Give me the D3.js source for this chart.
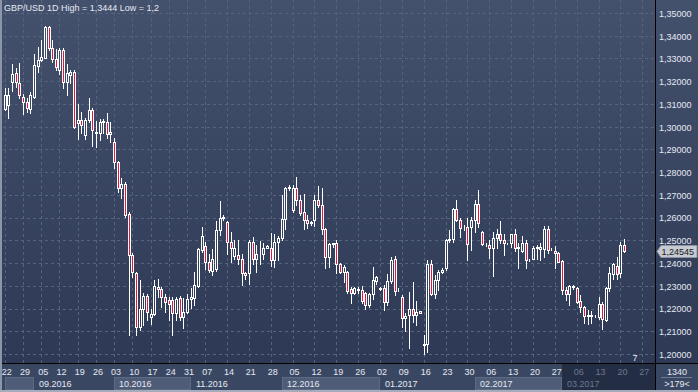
<!DOCTYPE html>
<html>
<head>
<meta charset="utf-8">
<script src="https://cdn.jsdelivr.net/npm/d3@7"></script>
<style>
  body { margin: 0; background: #3a4762; overflow: hidden; }
  text { font-family: "Liberation Sans", Arial, sans-serif; }
</style>
</head>
<body>
<script>
// Data (GBP/USD daily candles, 22.08.2016 - 21.03.2017)
var opens = [1.3076,1.3095,1.3198,1.3235,1.3191,1.3129,1.3107,1.3078,1.3131,1.3268,1.3293,1.3303,1.3440,1.3345,1.3298,1.3249,1.3337,1.3198,1.3227,1.3239,
  1.3015,1.3029,1.2963,1.3029,1.3073,1.2970,1.2973,1.3019,1.3022,1.2967,1.2934,1.2846,1.2729,1.2746,1.2616,1.2435,1.2357,1.2120,1.2200,1.2255,
  1.2161,1.2178,1.2296,1.2284,1.2252,1.2237,1.2237,1.2181,1.2245,1.2161,1.2186,1.2240,1.2245,1.2300,1.2457,1.2475,1.2403,1.2365,1.2374,1.2545,
  1.2599,1.2579,1.2491,1.2432,1.2435,1.2420,1.2355,1.2355,1.2491,1.2416,1.2438,1.2442,1.2468,1.2468,1.2413,1.2491,1.2511,1.2592,1.2729,1.2633,
  1.2729,1.2677,1.2626,1.2589,1.2578,1.2589,1.2677,1.2655,1.2548,1.2425,1.2484,1.2489,1.2396,1.2362,1.2362,1.2284,1.2269,1.2281,1.2281,1.2269,
  1.2215,1.2264,1.2322,1.2286,1.2289,1.2230,1.2321,1.2418,1.2284,1.2252,1.2159,1.2171,1.2200,1.2171,1.2189,1.2040,1.2042,1.2394,1.2266,1.2325,
  1.2359,1.2377,1.2501,1.2506,1.2637,1.2589,1.2553,1.2560,1.2560,1.2589,1.2658,1.2538,1.2482,1.2479,1.2465,1.2509,1.2526,1.2501,1.2487,1.2487,
  1.2526,1.2465,1.2453,1.2487,1.2413,1.2420,1.2472,1.2462,1.2462,1.2550,1.2462,1.2453,1.2443,1.2409,1.2281,1.2264,1.2296,1.2289,1.2234,1.2205,
  1.2167,1.2168,1.2167,1.2161,1.2220,1.2149,1.2289,1.2354,1.2387,1.2357,1.2479]
var highs = [1.3171,1.3171,1.3274,1.3257,1.3279,1.3142,1.3125,1.3151,1.3318,1.3352,1.3381,1.3444,1.3444,1.3381,1.3341,1.3345,1.3345,1.3274,1.3249,1.3249,
  1.3098,1.3063,1.3040,1.3125,1.3081,1.3025,1.3032,1.3032,1.3059,1.3022,1.2948,1.2850,1.2773,1.2758,1.2626,1.2443,1.2362,1.2325,1.2269,1.2264,
  1.2200,1.2325,1.2328,1.2296,1.2264,1.2249,1.2252,1.2252,1.2255,1.2245,1.2264,1.2290,1.2359,1.2465,1.2560,1.2494,1.2438,1.2462,1.2585,1.2673,
  1.2611,1.2585,1.2538,1.2501,1.2501,1.2438,1.2359,1.2501,1.2516,1.2479,1.2497,1.2487,1.2479,1.2531,1.2526,1.2520,1.2699,1.2733,1.2743,1.2743,
  1.2780,1.2699,1.2704,1.2611,1.2586,1.2699,1.2739,1.2729,1.2553,1.2489,1.2489,1.2501,1.2401,1.2391,1.2365,1.2296,1.2293,1.2296,1.2299,1.2274,
  1.2269,1.2384,1.2343,1.2293,1.2303,1.2350,1.2428,1.2432,1.2289,1.2259,1.2179,1.2274,1.2315,1.2233,1.2190,1.2083,1.2413,1.2413,1.2347,1.2369,
  1.2377,1.2508,1.2545,1.2643,1.2677,1.2600,1.2567,1.2597,1.2604,1.2677,1.2721,1.2541,1.2487,1.2501,1.2538,1.2550,1.2585,1.2526,1.2490,1.2530,
  1.2550,1.2487,1.2520,1.2501,1.2416,1.2477,1.2479,1.2487,1.2564,1.2564,1.2465,1.2477,1.2450,1.2413,1.2296,1.2303,1.2303,1.2296,1.2259,1.2211,
  1.2193,1.2190,1.2171,1.2252,1.2230,1.2293,1.2381,1.2401,1.2425,1.2494,1.2504]
var lows = [1.3073,1.3037,1.3157,1.3176,1.3125,1.3056,1.3066,1.3059,1.3127,1.3242,1.3289,1.3300,1.3337,1.3286,1.3249,1.3230,1.3171,1.3139,1.3191,1.2993,
  1.2946,1.2970,1.2946,1.3022,1.2916,1.2912,1.2941,1.2970,1.2948,1.2934,1.2817,1.2714,1.2685,1.2604,1.2083,1.2340,1.2083,1.2105,1.2127,1.2149,
  1.2134,1.2171,1.2249,1.2208,1.2186,1.2149,1.2083,1.2149,1.2149,1.2113,1.2181,1.2201,1.2215,1.2296,1.2447,1.2376,1.2359,1.2347,1.2365,1.2523,
  1.2589,1.2442,1.2406,1.2420,1.2398,1.2303,1.2332,1.2310,1.2398,1.2359,1.2398,1.2420,1.2465,1.2388,1.2384,1.2413,1.2501,1.2552,1.2721,1.2626,
  1.2655,1.2611,1.2548,1.2553,1.2567,1.2563,1.2648,1.2528,1.2377,1.2381,1.2472,1.2355,1.2355,1.2318,1.2269,1.2225,1.2266,1.2269,1.2225,1.2196,
  1.2208,1.2244,1.2310,1.2281,1.2193,1.2215,1.2311,1.2259,1.2277,1.2120,1.2101,1.2028,1.2142,1.2127,1.2179,1.2000,1.2010,1.2259,1.2248,1.2281,
  1.2355,1.2369,1.2491,1.2494,1.2585,1.2516,1.2545,1.2413,1.2457,1.2538,1.2560,1.2479,1.2477,1.2423,1.2344,1.2465,1.2487,1.2435,1.2484,1.2472,
  1.2453,1.2380,1.2450,1.2380,1.2409,1.2418,1.2420,1.2413,1.2428,1.2443,1.2459,1.2380,1.2403,1.2262,1.2237,1.2215,1.2284,1.2223,1.2186,1.2138,
  1.2132,1.2138,1.2161,1.2152,1.2108,1.2146,1.2278,1.2332,1.2332,1.2340,1.2450]
var closes = [1.3139,1.3139,1.3230,1.3198,1.3139,1.3107,1.3081,1.3139,1.3271,1.3293,1.3305,1.3440,1.3345,1.3296,1.3264,1.3337,1.3198,1.3235,1.3239,1.2997,
  1.3029,1.3007,1.3029,1.3073,1.2985,1.2978,1.3022,1.3026,1.2967,1.2975,1.2846,1.2729,1.2746,1.2611,1.2435,1.2362,1.2120,1.2200,1.2255,1.2186,
  1.2178,1.2299,1.2284,1.2252,1.2230,1.2222,1.2181,1.2240,1.2161,1.2186,1.2240,1.2250,1.2303,1.2460,1.2519,1.2403,1.2368,1.2420,1.2545,1.2597,
  1.2601,1.2491,1.2465,1.2465,1.2420,1.2355,1.2347,1.2491,1.2416,1.2438,1.2442,1.2465,1.2475,1.2413,1.2491,1.2511,1.2592,1.2729,1.2733,1.2729,
  1.2677,1.2621,1.2589,1.2575,1.2580,1.2677,1.2655,1.2548,1.2425,1.2484,1.2487,1.2396,1.2362,1.2384,1.2278,1.2269,1.2289,1.2284,1.2234,1.2215,
  1.2266,1.2325,1.2340,1.2289,1.2230,1.2321,1.2413,1.2277,1.2286,1.2159,1.2168,1.2200,1.2171,1.2186,1.2179,1.2042,1.2394,1.2266,1.2325,1.2359,
  1.2369,1.2501,1.2506,1.2637,1.2589,1.2553,1.2556,1.2482,1.2589,1.2658,1.2575,1.2482,1.2484,1.2465,1.2509,1.2526,1.2501,1.2487,1.2488,1.2526,
  1.2468,1.2472,1.2487,1.2413,1.2414,1.2465,1.2465,1.2472,1.2550,1.2457,1.2463,1.2443,1.2406,1.2281,1.2266,1.2299,1.2297,1.2230,1.2205,1.2167,
  1.2171,1.2171,1.2168,1.2220,1.2152,1.2289,1.2357,1.2398,1.2354,1.2479,1.2454]

var daySlots = [0,5,10,15,20,25,30,35,40,45,50,55,61,67,73,79,85,91,97,103,109,115,121,127,133,139,145,151,157,163,169,175]
var dayLabels = ['22','29','05','12','19','26','03','10','17','24','31','07','14','21','28','05','12','19','26','02','09','16','23','30','06','13','20','27','06','13','20','27']
var monthStarts = [0,8,30,51,76,103,129,153]
var monthLabels = ['','09.2016','10.2016','11.2016','12.2016','01.2017','02.2017','03.2017']
var priceTicks = [1.35,1.34,1.33,1.32,1.31,1.30,1.29,1.28,1.27,1.26,1.25,1.24,1.23,1.22,1.21,1.20]
var lastPrice = 1.24545
var slotCount = 179   // bars visible
var barsTotal = 1340
var currentSlot = 153 // first bar of the current month (greyed)

// Variables
var w = 698, h = 392
var plotRight = 655, plotBottom = 363
var fmt = d3.formatLocale({ decimal: ',', thousands: '.', grouping: [3], currency: ['', ''] }).format('.5f')
var light = '#e4e9f2', grey = '#6d7890'

// Scales
var xScale = d3.scaleBand().domain(d3.range(slotCount)).range([3, plotRight])
var yScale = d3.scaleLinear().domain([1.20, 1.35]).range([354, 13])
var bw = xScale.bandwidth()
function xc (i) { return xScale(i) + bw / 2 }

var svg = d3.select('body').append('svg')
    .attr('width', w)
    .attr('height', h)

// Background gradient
var grad = svg.append('defs').append('linearGradient')
    .attr('id', 'bg')
    .attr('gradientUnits', 'userSpaceOnUse')
    .attr('x1', 0).attr('y1', 0).attr('x2', 0).attr('y2', plotBottom)
grad.append('stop').attr('offset', '0%').attr('stop-color', '#44516d')
grad.append('stop').attr('offset', '100%').attr('stop-color', '#2d3955')

svg.append('rect').attr('width', w).attr('height', h).attr('fill', '#3a4762')
svg.append('rect').attr('width', w).attr('height', plotBottom).attr('fill', 'url(#bg)')

// Month row boxes
var months = monthStarts.map(function (s, i) {
  return { start: s, end: i < monthStarts.length - 1 ? monthStarts[i + 1] : slotCount, label: monthLabels[i], i: i }
})
svg.selectAll('.mbox')
    .data(months.filter(function (m) { return m.i % 2 === 0 && m.start < currentSlot }))
    .enter()
  .append('rect')
    .attr('x', function (d) { return Math.round(xc(d.start)) + 0.5 })
    .attr('y', 377.5)
    .attr('width', function (d) { return Math.round(xc(d.end)) - Math.round(xc(d.start)) - 1 })
    .attr('height', 12)
    .attr('fill', '#4f5c77')
    .attr('stroke', '#5d6a84')

// Current month shading
svg.append('rect')
    .attr('x', Math.round(xc(currentSlot)))
    .attr('y', plotBottom + 1)
    .attr('width', plotRight - Math.round(xc(currentSlot)))
    .attr('height', 390 - plotBottom - 1)
    .attr('fill', '#232d44')

// Grid
svg.append('g').selectAll('line')
    .data(priceTicks)
    .enter()
  .append('line')
    .attr('x1', 3).attr('x2', plotRight)
    .attr('y1', function (d) { return Math.round(yScale(d)) + 0.5 })
    .attr('y2', function (d) { return Math.round(yScale(d)) + 0.5 })
    .attr('stroke', '#56637d')
    .attr('stroke-dasharray', '3,3')
svg.append('g').selectAll('line')
    .data(daySlots)
    .enter()
  .append('line')
    .attr('y1', 0).attr('y2', plotBottom)
    .attr('x1', function (d) { return Math.round(xc(d)) + 0.5 })
    .attr('x2', function (d) { return Math.round(xc(d)) + 0.5 })
    .attr('stroke', '#56637d')
    .attr('stroke-dasharray', '3,3')

// Candles
var candles = svg.append('g').selectAll('g')
    .data(d3.range(opens.length))
    .enter()
  .append('g')
candles.append('line') // wick
    .attr('x1', function (i) { return Math.round(xc(i)) + 0.5 })
    .attr('x2', function (i) { return Math.round(xc(i)) + 0.5 })
    .attr('y1', function (i) { return Math.round(yScale(highs[i])) })
    .attr('y2', function (i) { return Math.round(yScale(lows[i])) + 1 })
    .attr('stroke', '#ffffff')
candles.append('rect') // body
    .attr('x', function (i) { return Math.round(xc(i)) - 0.5 })
    .attr('y', function (i) { return Math.round(yScale(Math.max(opens[i], closes[i]))) + 0.5 })
    .attr('width', 2)
    .attr('height', function (i) {
      return Math.max(0, Math.round(yScale(Math.min(opens[i], closes[i]))) - Math.round(yScale(Math.max(opens[i], closes[i]))))
    })
    .attr('fill', function (i) { return closes[i] < opens[i] ? '#e3163c' : 'url(#bg)' })
    .attr('stroke', '#ffffff')

// Frame lines
svg.append('line').attr('x1', plotRight + 0.5).attr('x2', plotRight + 0.5).attr('y1', 0).attr('y2', 390).attr('stroke', '#000')
svg.append('line').attr('x1', 0).attr('x2', w).attr('y1', plotBottom + 0.5).attr('y2', plotBottom + 0.5).attr('stroke', '#000')
svg.append('rect').attr('x', 0).attr('y', 0).attr('width', 2).attr('height', h).attr('fill', '#8d96a8')
svg.append('rect').attr('x', 0).attr('y', 390).attr('width', w).attr('height', 2).attr('fill', '#a4acbb')

// Y-axis (right)
var yAxis = d3.axisRight(yScale).tickValues(priceTicks).tickSize(0).tickPadding(3).tickFormat(fmt)
var ya = svg.append('g')
    .attr('transform', 'translate(' + (plotRight + 1) + ',0.5)')
    .call(yAxis)
ya.select('.domain').remove()
ya.selectAll('text').attr('fill', light).style('font-size', '9px')

// Last price tag
var ty = Math.round(yScale(lastPrice)) + 0.5
svg.append('path')
    .attr('d', 'M657,' + ty + ' L661,' + (ty - 6) + ' L697,' + (ty - 6) + ' L697,' + (ty + 6) + ' L661,' + (ty + 6) + ' Z')
    .attr('fill', '#c5c9d1')
    .attr('stroke', '#8c93a2')
svg.append('text')
    .attr('x', 661.5).attr('y', ty + 3.5)
    .style('font-size', '9px')
    .attr('fill', '#1a1a1a')
    .text(fmt(lastPrice))

// X-axis (days)
var xAxis = d3.axisBottom(xScale).tickValues(daySlots).tickSize(0).tickPadding(5.6)
    .tickFormat(function (d, i) { return dayLabels[i] })
var xa = svg.append('g')
    .attr('transform', 'translate(2,' + plotBottom + ')')
    .call(xAxis)
xa.select('.domain').remove()
xa.selectAll('text')
    .style('font-size', '9px')
    .attr('fill', function (d) { return d >= currentSlot ? grey : light })

// Month labels
svg.selectAll('.mlabel')
    .data(months)
    .enter()
  .append('text')
    .attr('x', function (d) { return Math.round(xc(d.start)) + 5 })
    .attr('y', 387)
    .style('font-size', '9px')
    .attr('fill', function (d) { return d.start >= currentSlot ? grey : light })
    .text(function (d) { return d.label })

// Corner info
svg.append('text').attr('x', 677).attr('y', 375).attr('text-anchor', 'middle')
    .style('font-size', '9px').attr('fill', light).text(barsTotal)
svg.append('line').attr('x1', 661).attr('x2', 692).attr('y1', 377.5).attr('y2', 377.5).attr('stroke', '#6d7a93')
svg.append('text').attr('x', 677).attr('y', 387).attr('text-anchor', 'middle')
    .style('font-size', '9px').attr('fill', light).text('>' + slotCount + '<')

// Title and misc
svg.append('text').attr('x', 4).attr('y', 11)
    .style('font-size', '9px').attr('fill', light)
    .text('GBP/USD 1D High = 1,3444 Low = 1,2')
svg.append('text').attr('x', 635).attr('y', 361).attr('text-anchor', 'middle')
    .style('font-size', '9px').attr('fill', light).text('7')
</script>
</body>
</html>
